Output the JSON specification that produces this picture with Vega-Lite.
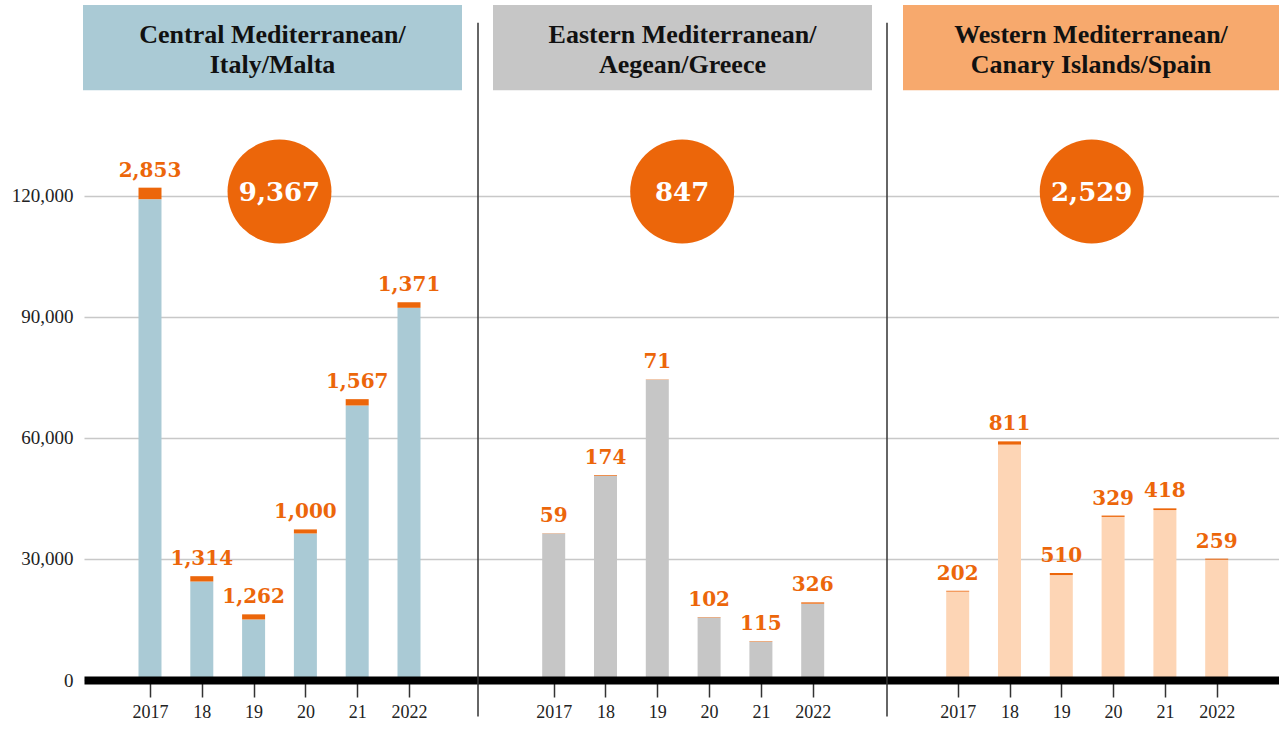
{
  "$schema": "https://vega.github.io/schema/vega-lite/v6.json",
  "padding": {"left": 5, "top": 5, "right": 0, "bottom": 0},
  "bounds": "flush",
  "spacing": 0,
  "config": {"view": {"stroke": null}, "concat": {"spacing": 0}},
  "resolve": {"scale": {"x": "independent", "y": "independent"}, "axis": {"x": "independent", "y": "independent"}},
  "datasets": {
    "migration": [
      {"region": "Central", "year": 2017, "arrivals": 119100, "deaths": 2853},
      {"region": "Central", "year": 2018, "arrivals": 24400, "deaths": 1314},
      {"region": "Central", "year": 2019, "arrivals": 15000, "deaths": 1262},
      {"region": "Central", "year": 2020, "arrivals": 36300, "deaths": 1000},
      {"region": "Central", "year": 2021, "arrivals": 68000, "deaths": 1567},
      {"region": "Central", "year": 2022, "arrivals": 92200, "deaths": 1371},
      {"region": "Eastern", "year": 2017, "arrivals": 36300, "deaths": 59},
      {"region": "Eastern", "year": 2018, "arrivals": 50600, "deaths": 174},
      {"region": "Eastern", "year": 2019, "arrivals": 74400, "deaths": 71},
      {"region": "Eastern", "year": 2020, "arrivals": 15500, "deaths": 102},
      {"region": "Eastern", "year": 2021, "arrivals": 9500, "deaths": 115},
      {"region": "Eastern", "year": 2022, "arrivals": 18900, "deaths": 326},
      {"region": "Western", "year": 2017, "arrivals": 21900, "deaths": 202},
      {"region": "Western", "year": 2018, "arrivals": 58300, "deaths": 811},
      {"region": "Western", "year": 2019, "arrivals": 26000, "deaths": 510},
      {"region": "Western", "year": 2020, "arrivals": 40400, "deaths": 329},
      {"region": "Western", "year": 2021, "arrivals": 42100, "deaths": 418},
      {"region": "Western", "year": 2022, "arrivals": 29800, "deaths": 259}
    ]
  },
  "hconcat": [
    {
      "width": 394,
      "height": 675,
      "data": {"name": "migration"},
      "transform": [
        {"filter": "datum.region === 'Central'"},
        {"fold": ["arrivals", "deaths"], "as": ["key", "value"]},
        {"stack": "value", "groupby": ["year"], "sort": [{"field": "key", "order": "ascending"}], "as": ["v0", "v1"]}
      ],
      "layer": [
        {
          "transform": [{"aggregate": [{"op": "count", "as": "n"}]}],
          "mark": {"type": "rect", "color": "#aacad5"},
          "encoding": {
            "x": {"datum": 2015.7066, "type": "quantitative"},
            "x2": {"datum": 2023.0232},
            "y": {"datum": 146100, "type": "quantitative"},
            "y2": {"datum": 167200}
          }
        },
        {
          "transform": [{"aggregate": [{"op": "count", "as": "n"}]}],
          "mark": {"type": "text", "font": "Liberation Serif", "fontWeight": "bold", "fontSize": 26, "color": "#111111", "align": "center", "baseline": "alphabetic", "lineBreak": "\n", "lineHeight": 30},
          "encoding": {
            "x": {"datum": 2019.3649, "type": "quantitative"},
            "y": {"datum": 157900, "type": "quantitative"},
            "text": {"value": "Central Mediterranean/\nItaly/Malta"}
          }
        },
        {
          "mark": {"type": "bar", "width": 23},
          "encoding": {
            "x": {
              "field": "year", "type": "quantitative",
              "scale": {"domain": [2015.7259, 2023.3321], "nice": false, "zero": false, "padding": 0},
              "axis": {"values": [2017, 2018, 2019, 2020, 2021, 2022], "format": "d", "labelExpr": "datum.value == 2017 || datum.value == 2022 ? datum.label : substring(datum.label, 2)", "title": null, "grid": false, "domainColor": "#000000", "domainWidth": 8, "tickColor": "#333333", "tickWidth": 1.5, "tickSize": 17, "labelFont": "Liberation Serif", "labelFontSize": 18, "labelColor": "#222222", "labelPadding": 6, "zindex": 1}
            },
            "y": {
              "field": "v0", "type": "quantitative",
              "scale": {"domain": [0, 167200], "nice": false, "padding": 0},
              "axis": {"values": [0, 30000, 60000, 90000, 120000], "format": ",", "labelExpr": "format(datum.value, ',')", "title": null, "grid": true, "gridColor": "#c8c8c8", "gridWidth": 1.5, "domain": false, "ticks": false, "labelFont": "Liberation Serif", "labelFontSize": 19, "labelColor": "#222222", "labelPadding": 11, "minExtent": 79, "maxExtent": 79}
            },
            "y2": {"field": "v1"},
            "color": {"condition": {"test": "datum.key === 'deaths'", "value": "#ec660a"}, "value": "#aacad5"}
          }
        },
        {
          "transform": [{"filter": "datum.key === 'deaths'"}],
          "mark": {"type": "text", "font": "DejaVu Serif", "fontWeight": "bold", "fontSize": 20, "color": "#ec660a", "align": "center", "baseline": "alphabetic", "dy": -11},
          "encoding": {
            "x": {"field": "year", "type": "quantitative"},
            "y": {"field": "v1", "type": "quantitative"},
            "text": {"field": "value", "type": "quantitative", "format": ","}
          }
        },
        {
          "transform": [{"filter": "datum.key === 'deaths'"}, {"aggregate": [{"op": "sum", "field": "value", "as": "total"}]}],
          "mark": {"type": "circle", "size": 10800, "color": "#ec660a", "opacity": 1},
          "encoding": {
            "x": {"datum": 2019.5, "type": "quantitative"},
            "y": {"datum": 121000, "type": "quantitative"}
          }
        },
        {
          "transform": [{"filter": "datum.key === 'deaths'"}, {"aggregate": [{"op": "sum", "field": "value", "as": "total"}]}],
          "mark": {"type": "text", "font": "DejaVu Serif", "fontWeight": "bold", "fontSize": 26, "color": "#ffffff", "align": "center", "baseline": "middle", "dy": 1},
          "encoding": {
            "x": {"datum": 2019.5, "type": "quantitative"},
            "y": {"datum": 121000, "type": "quantitative"},
            "text": {"field": "total", "type": "quantitative", "format": ","}
          }
        }
      ]
    },
    {
      "width": 409,
      "height": 675,
      "data": {"name": "migration"},
      "transform": [
        {"filter": "datum.region === 'Eastern'"},
        {"fold": ["arrivals", "deaths"], "as": ["key", "value"]},
        {"stack": "value", "groupby": ["year"], "sort": [{"field": "key", "order": "ascending"}], "as": ["v0", "v1"]}
      ],
      "layer": [
        {
          "transform": [{"aggregate": [{"op": "count", "as": "n"}]}],
          "mark": {"type": "rect", "color": "#c6c6c6"},
          "encoding": {
            "x": {"datum": 2015.8282, "type": "quantitative"},
            "x2": {"datum": 2023.1448},
            "y": {"datum": 146100, "type": "quantitative"},
            "y2": {"datum": 167200}
          }
        },
        {
          "transform": [{"aggregate": [{"op": "count", "as": "n"}]}],
          "mark": {"type": "text", "font": "Liberation Serif", "fontWeight": "bold", "fontSize": 26, "color": "#111111", "align": "center", "baseline": "alphabetic", "lineBreak": "\n", "lineHeight": 30},
          "encoding": {
            "x": {"datum": 2019.4865, "type": "quantitative"},
            "y": {"datum": 157900, "type": "quantitative"},
            "text": {"value": "Eastern Mediterranean/\nAegean/Greece"}
          }
        },
        {
          "transform": [{"aggregate": [{"op": "count", "as": "n"}]}],
          "mark": {"type": "rule", "color": "#333333", "strokeWidth": 1.5},
          "encoding": {
            "x": {"datum": 2015.5386, "type": "quantitative"},
            "y": {"datum": 162800, "type": "quantitative"},
            "y2": {"datum": -9070}
          }
        },
        {
          "mark": {"type": "bar", "width": 23},
          "encoding": {
            "x": {
              "field": "year", "type": "quantitative",
              "scale": {"domain": [2015.5386, 2023.4344], "nice": false, "zero": false, "padding": 0},
              "axis": {"values": [2017, 2018, 2019, 2020, 2021, 2022], "format": "d", "labelExpr": "datum.value == 2017 || datum.value == 2022 ? datum.label : substring(datum.label, 2)", "title": null, "grid": false, "domainColor": "#000000", "domainWidth": 8, "tickColor": "#333333", "tickWidth": 1.5, "tickSize": 17, "labelFont": "Liberation Serif", "labelFontSize": 18, "labelColor": "#222222", "labelPadding": 6, "zindex": 1}
            },
            "y": {
              "field": "v0", "type": "quantitative",
              "scale": {"domain": [0, 167200], "nice": false, "padding": 0},
              "axis": {"values": [0, 30000, 60000, 90000, 120000], "title": null, "grid": true, "gridColor": "#c8c8c8", "gridWidth": 1.5, "domain": false, "ticks": false, "labels": false, "minExtent": 0, "maxExtent": 0}
            },
            "y2": {"field": "v1"},
            "color": {"condition": {"test": "datum.key === 'deaths'", "value": "#ec660a"}, "value": "#c6c6c6"}
          }
        },
        {
          "transform": [{"filter": "datum.key === 'deaths'"}],
          "mark": {"type": "text", "font": "DejaVu Serif", "fontWeight": "bold", "fontSize": 20, "color": "#ec660a", "align": "center", "baseline": "alphabetic", "dy": -11},
          "encoding": {
            "x": {"field": "year", "type": "quantitative"},
            "y": {"field": "v1", "type": "quantitative"},
            "text": {"field": "value", "type": "quantitative", "format": ","}
          }
        },
        {
          "transform": [{"filter": "datum.key === 'deaths'"}, {"aggregate": [{"op": "sum", "field": "value", "as": "total"}]}],
          "mark": {"type": "circle", "size": 10800, "color": "#ec660a", "opacity": 1},
          "encoding": {
            "x": {"datum": 2019.48, "type": "quantitative"},
            "y": {"datum": 121000, "type": "quantitative"}
          }
        },
        {
          "transform": [{"filter": "datum.key === 'deaths'"}, {"aggregate": [{"op": "sum", "field": "value", "as": "total"}]}],
          "mark": {"type": "text", "font": "DejaVu Serif", "fontWeight": "bold", "fontSize": 26, "color": "#ffffff", "align": "center", "baseline": "middle", "dy": 1},
          "encoding": {
            "x": {"datum": 2019.48, "type": "quantitative"},
            "y": {"datum": 121000, "type": "quantitative"},
            "text": {"field": "total", "type": "quantitative", "format": ","}
          }
        }
      ]
    },
    {
      "width": 392,
      "height": 675,
      "data": {"name": "migration"},
      "transform": [
        {"filter": "datum.region === 'Western'"},
        {"fold": ["arrivals", "deaths"], "as": ["key", "value"]},
        {"stack": "value", "groupby": ["year"], "sort": [{"field": "key", "order": "ascending"}], "as": ["v0", "v1"]}
      ],
      "layer": [
        {
          "transform": [{"aggregate": [{"op": "count", "as": "n"}]}],
          "mark": {"type": "rect", "color": "#f7a96d"},
          "encoding": {
            "x": {"datum": 2015.944, "type": "quantitative"},
            "x2": {"datum": 2023.2027},
            "y": {"datum": 146100, "type": "quantitative"},
            "y2": {"datum": 167200}
          }
        },
        {
          "transform": [{"aggregate": [{"op": "count", "as": "n"}]}],
          "mark": {"type": "text", "font": "Liberation Serif", "fontWeight": "bold", "fontSize": 26, "color": "#111111", "align": "center", "baseline": "alphabetic", "lineBreak": "\n", "lineHeight": 30},
          "encoding": {
            "x": {"datum": 2019.5733, "type": "quantitative"},
            "y": {"datum": 157900, "type": "quantitative"},
            "text": {"value": "Western Mediterranean/\nCanary Islands/Spain"}
          }
        },
        {
          "transform": [{"aggregate": [{"op": "count", "as": "n"}]}],
          "mark": {"type": "rule", "color": "#333333", "strokeWidth": 1.5},
          "encoding": {
            "x": {"datum": 2015.6351, "type": "quantitative"},
            "y": {"datum": 162800, "type": "quantitative"},
            "y2": {"datum": -9070}
          }
        },
        {
          "mark": {"type": "bar", "width": 23},
          "encoding": {
            "x": {
              "field": "year", "type": "quantitative",
              "scale": {"domain": [2015.6351, 2023.2027], "nice": false, "zero": false, "padding": 0},
              "axis": {"values": [2017, 2018, 2019, 2020, 2021, 2022], "format": "d", "labelExpr": "datum.value == 2017 || datum.value == 2022 ? datum.label : substring(datum.label, 2)", "title": null, "grid": false, "domainColor": "#000000", "domainWidth": 8, "tickColor": "#333333", "tickWidth": 1.5, "tickSize": 17, "labelFont": "Liberation Serif", "labelFontSize": 18, "labelColor": "#222222", "labelPadding": 6, "zindex": 1}
            },
            "y": {
              "field": "v0", "type": "quantitative",
              "scale": {"domain": [0, 167200], "nice": false, "padding": 0},
              "axis": {"values": [0, 30000, 60000, 90000, 120000], "title": null, "grid": true, "gridColor": "#c8c8c8", "gridWidth": 1.5, "domain": false, "ticks": false, "labels": false, "minExtent": 0, "maxExtent": 0}
            },
            "y2": {"field": "v1"},
            "color": {"condition": {"test": "datum.key === 'deaths'", "value": "#ec660a"}, "value": "#fdd5b5"}
          }
        },
        {
          "transform": [{"filter": "datum.key === 'deaths'"}],
          "mark": {"type": "text", "font": "DejaVu Serif", "fontWeight": "bold", "fontSize": 20, "color": "#ec660a", "align": "center", "baseline": "alphabetic", "dy": -11},
          "encoding": {
            "x": {"field": "year", "type": "quantitative"},
            "y": {"field": "v1", "type": "quantitative"},
            "text": {"field": "value", "type": "quantitative", "format": ","}
          }
        },
        {
          "transform": [{"filter": "datum.key === 'deaths'"}, {"aggregate": [{"op": "sum", "field": "value", "as": "total"}]}],
          "mark": {"type": "circle", "size": 10800, "color": "#ec660a", "opacity": 1},
          "encoding": {
            "x": {"datum": 2019.587, "type": "quantitative"},
            "y": {"datum": 121000, "type": "quantitative"}
          }
        },
        {
          "transform": [{"filter": "datum.key === 'deaths'"}, {"aggregate": [{"op": "sum", "field": "value", "as": "total"}]}],
          "mark": {"type": "text", "font": "DejaVu Serif", "fontWeight": "bold", "fontSize": 26, "color": "#ffffff", "align": "center", "baseline": "middle", "dy": 1},
          "encoding": {
            "x": {"datum": 2019.587, "type": "quantitative"},
            "y": {"datum": 121000, "type": "quantitative"},
            "text": {"field": "total", "type": "quantitative", "format": ","}
          }
        }
      ]
    }
  ]
}
